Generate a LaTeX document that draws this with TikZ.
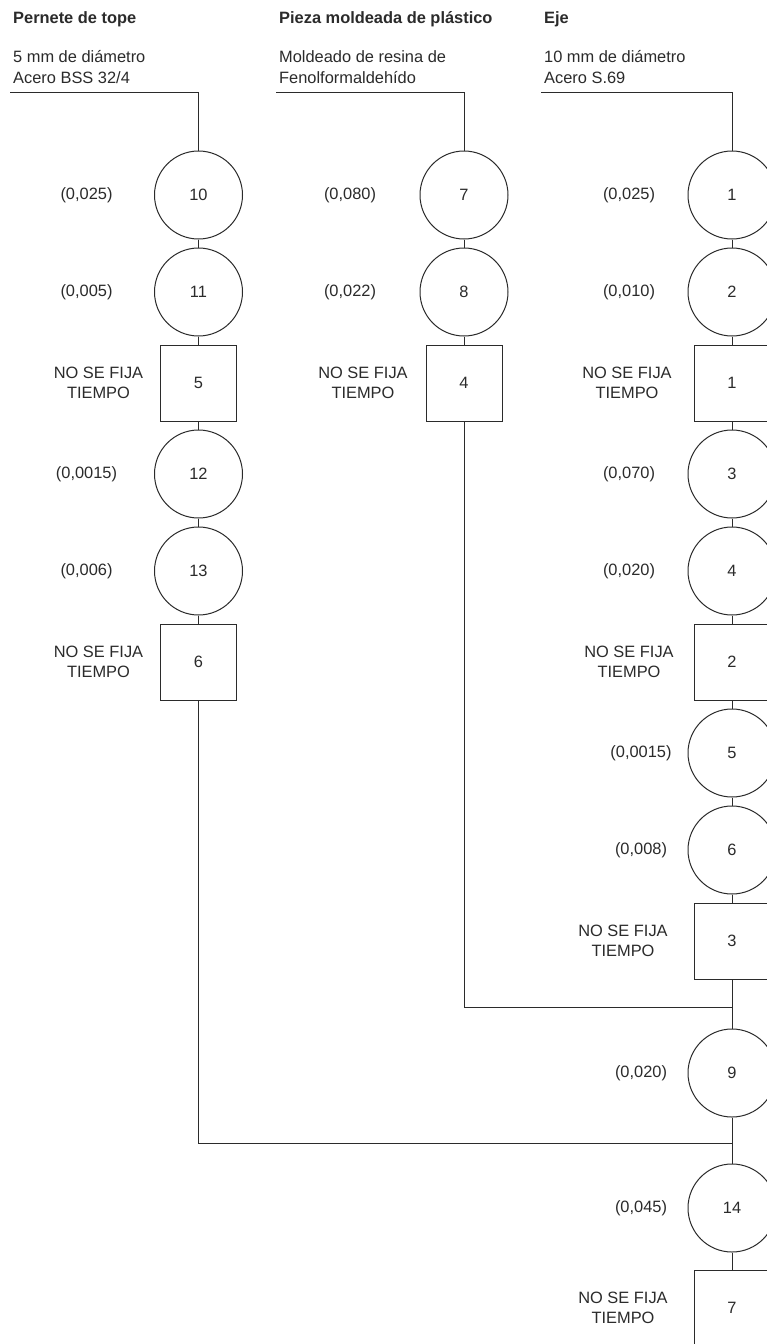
\documentclass[tikz,border=0pt]{standalone}
\usepackage{fontspec}
\setmainfont{Liberation Sans}
\usetikzlibrary{positioning}
\definecolor{inkgray}{HTML}{2B2B2B}
\newcommand{\fsize}{\fontsize{16.4}{20.5}\selectfont}
\tikzset{
  opcircle/.style={circle, draw=inkgray, line width=1pt, minimum size=88pt,
                   inner sep=0pt, font=\fsize, text=inkgray},
  inspbox/.style={rectangle, draw=inkgray, line width=1pt, minimum size=76pt,
                  inner sep=0pt, font=\fsize, text=inkgray},
  timetag/.style={font=\fsize, text=inkgray, align=center, inner sep=0pt},
  parttitle/.style={font=\fsize\bfseries, anchor=base west, inner sep=0pt, text=inkgray},
  partspec/.style={font=\fontsize{16.4}{21}\selectfont, anchor=north west, align=left,
                   inner sep=0pt, text=inkgray},
  link/.style={draw=inkgray, line width=1pt},
}
\begin{document}
\begin{tikzpicture}[x=1pt, y=-1pt]
  \fill[white] (0,0) rectangle (767,1344);
  \useasboundingbox (0,0) rectangle (767,1344);

  % headers
  \node[parttitle] (p1) at (13,23) {Pernete de tope};
  \node[parttitle] (p2) at (279,23) {Pieza moldeada de plástico};
  \node[parttitle] (p3) at (544,23) {Eje};
  \node[partspec] (s1) at (13,50) {5 mm de diámetro\\Acero BSS 32/4};
  \node[partspec] (s2) at (279,50) {Moldeado de resina de\\Fenolformaldehído};
  \node[partspec] (s3) at (544,50) {10 mm de diámetro\\Acero S.69};
  \coordinate (h1) at (10,92);
  \coordinate (h2) at (276,92);
  \coordinate (h3) at (541,92);

  % pernete de tope
  \node[opcircle] (c10) at (198.5,195) {10};
  \node[opcircle, below=8pt of c10] (c11) {11};
  \node[inspbox, below=8pt of c11] (b5) {5};
  \node[opcircle, below=8pt of b5] (c12) {12};
  \node[opcircle, below=8pt of c12] (c13) {13};
  \node[inspbox, below=8pt of c13] (b6) {6};

  % pieza moldeada
  \node[opcircle] (c7) at (464,195) {7};
  \node[opcircle, below=8pt of c7] (c8) {8};
  \node[inspbox, below=8pt of c8] (b4) {4};

  % eje
  \node[opcircle] (c1) at (732,195) {1};
  \node[opcircle, below=8pt of c1] (c2) {2};
  \node[inspbox, below=8pt of c2] (b1) {1};
  \node[opcircle, below=8pt of b1] (c3) {3};
  \node[opcircle, below=8pt of c3] (c4) {4};
  \node[inspbox, below=8pt of c4] (b2) {2};
  \node[opcircle, below=8pt of b2] (c5) {5};
  \node[opcircle, below=8pt of c5] (c6) {6};
  \node[inspbox, below=8pt of c6] (b3) {3};

  % montaje
  \coordinate (join1) at (732,1007);
  \node[opcircle] (c9) at (732,1073) {9};
  \coordinate (join2) at (732,1143);
  \node[opcircle] (c14) at (732,1208) {14};
  \node[inspbox] (b7) at (732,1308) {7};

  % tiempos
  \node[timetag] (t10) at ([xshift=-112pt]c10.center) {(0,025)};
  \node[timetag] (t11) at ([xshift=-112pt]c11.center) {(0,005)};
  \node[timetag] (t5) at ([xshift=-100pt]b5.center) {NO SE FIJA\\TIEMPO};
  \node[timetag] (t12) at ([xshift=-112pt]c12.center) {(0,0015)};
  \node[timetag] (t13) at ([xshift=-112pt]c13.center) {(0,006)};
  \node[timetag] (t6) at ([xshift=-100pt]b6.center) {NO SE FIJA\\TIEMPO};
  \node[timetag] (t7) at ([xshift=-114pt]c7.center) {(0,080)};
  \node[timetag] (t8) at ([xshift=-114pt]c8.center) {(0,022)};
  \node[timetag] (t4) at ([xshift=-101pt]b4.center) {NO SE FIJA\\TIEMPO};
  \node[timetag] (t1) at ([xshift=-103pt]c1.center) {(0,025)};
  \node[timetag] (t2) at ([xshift=-103pt]c2.center) {(0,010)};
  \node[timetag] (tb1) at ([xshift=-105pt]b1.center) {NO SE FIJA\\TIEMPO};
  \node[timetag] (t3) at ([xshift=-103pt]c3.center) {(0,070)};
  \node[timetag] (tc4) at ([xshift=-103pt]c4.center) {(0,020)};
  \node[timetag] (tb2) at ([xshift=-103pt]b2.center) {NO SE FIJA\\TIEMPO};
  \node[timetag] (tc5) at ([xshift=-91pt]c5.center) {(0,0015)};
  \node[timetag] (tc6) at ([xshift=-91pt]c6.center) {(0,008)};
  \node[timetag] (tb3) at ([xshift=-109pt]b3.center) {NO SE FIJA\\TIEMPO};
  \node[timetag] (t9) at ([xshift=-91pt]c9.center) {(0,020)};
  \node[timetag] (t14) at ([xshift=-91pt]c14.center) {(0,045)};
  \node[timetag] (tb7) at ([xshift=-109pt]b7.center) {NO SE FIJA\\TIEMPO};

  % lineas
  \draw[link] (h1) -| (c10);
  \draw[link] (h2) -| (c7);
  \draw[link] (h3) -| (c1);
  \draw[link] (c10) -- (c11);
  \draw[link] (c11) -- (b5);
  \draw[link] (b5) -- (c12);
  \draw[link] (c12) -- (c13);
  \draw[link] (c13) -- (b6);
  \draw[link] (c7) -- (c8);
  \draw[link] (c8) -- (b4);
  \draw[link] (c1) -- (c2);
  \draw[link] (c2) -- (b1);
  \draw[link] (b1) -- (c3);
  \draw[link] (c3) -- (c4);
  \draw[link] (c4) -- (b2);
  \draw[link] (b2) -- (c5);
  \draw[link] (c5) -- (c6);
  \draw[link] (c6) -- (b3);
  \draw[link] (b3) -- (c9);
  \draw[link] (c9) -- (c14);
  \draw[link] (c14) -- (b7);
  \draw[link] (b4) |- (join1);
  \draw[link] (b6) |- (join2);
\end{tikzpicture}
\end{document}
